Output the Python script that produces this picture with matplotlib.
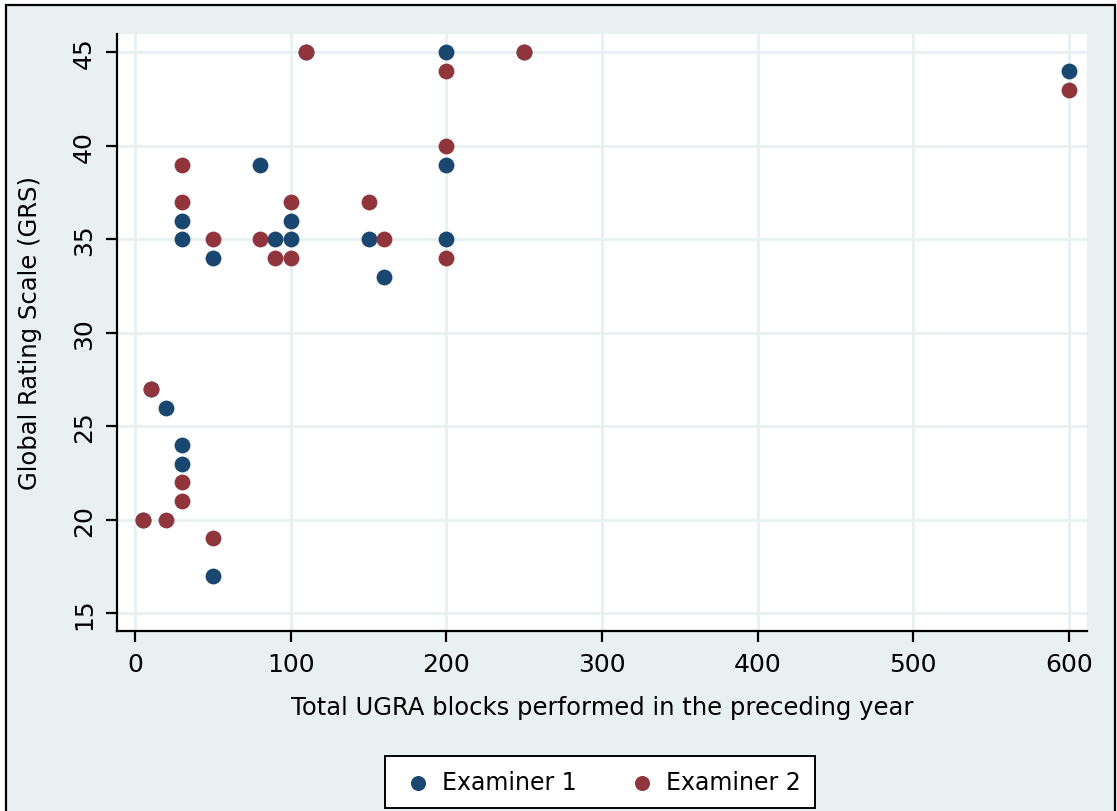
import matplotlib
matplotlib.use("Agg")
import matplotlib.pyplot as plt
from matplotlib.patches import Rectangle

# blocks performed in the preceding year, one entry per participant
blocks = [5, 10, 20, 30, 30, 30, 30, 50, 50, 80, 90, 100, 100, 110, 150, 160, 200, 200, 200, 250, 600]
grs_ex1 = [20, 27, 26, 36, 35, 24, 23, 34, 17, 39, 35, 36, 35, 45, 35, 33, 45, 39, 35, 45, 44]
grs_ex2 = [20, 27, 20, 39, 37, 22, 21, 35, 19, 35, 34, 37, 34, 45, 37, 35, 44, 40, 34, 45, 43]

xticks = [0, 100, 200, 300, 400, 500, 600]
yticks = [15, 20, 25, 30, 35, 40, 45]

bg = "#E8F0F2"
c1 = "#1A476F"
c2 = "#90353B"

plt.rcParams['font.family'] = ['DejaVu Sans']

fig = plt.figure(figsize=(11.17, 8.12), dpi=100)
fig.patch.set_facecolor("white")
fig.patches.append(Rectangle((6/1117, -0.05), 1109/1117, 1.05 - 6/812,
                             transform=fig.transFigure, facecolor=bg,
                             edgecolor="black", linewidth=1.6, zorder=-10))

ax = fig.add_axes([117/1117, 1 - 632/812, 970/1117, 597/812])
ax.set_facecolor("white")
ax.scatter(blocks, grs_ex1, s=130, color=c1, label="Examiner 1", zorder=3, linewidths=0)
ax.scatter(blocks, grs_ex2, s=130, color=c2, label="Examiner 2", zorder=4, linewidths=0)

ax.set_xlim(-11.6, 611.6)
ax.set_ylim(14.05, 45.98)
ax.set_xticks(xticks)
ax.set_yticks(yticks)
ax.grid(True, color=bg, linewidth=2)
ax.set_axisbelow(True)
for s in ["top", "right"]:
    ax.spines[s].set_visible(False)
for s in ["left", "bottom"]:
    ax.spines[s].set_linewidth(1.6)
ax.tick_params(direction="out", length=8, width=1.6, labelsize=18, pad=7)
for lab in ax.get_yticklabels():
    lab.set_rotation(90)
    lab.set_va("center")

ax.set_xlabel("Total UGRA blocks performed in the preceding year", fontsize=17.5, labelpad=14)
ax.set_ylabel("Global Rating Scale (GRS)", fontsize=17.5, labelpad=22)

leg = fig.legend(loc="center", bbox_to_anchor=(600/1117, 1 - 783/812), ncol=2,
                 fontsize=17, frameon=True, fancybox=False, edgecolor="black",
                 framealpha=1, handletextpad=0.2, columnspacing=2.0,
                 markerscale=0.95, borderpad=0.6, handlelength=1.6)
leg.get_frame().set_linewidth(1.4)

fig.savefig("out.png", dpi=100, facecolor=fig.get_facecolor())
